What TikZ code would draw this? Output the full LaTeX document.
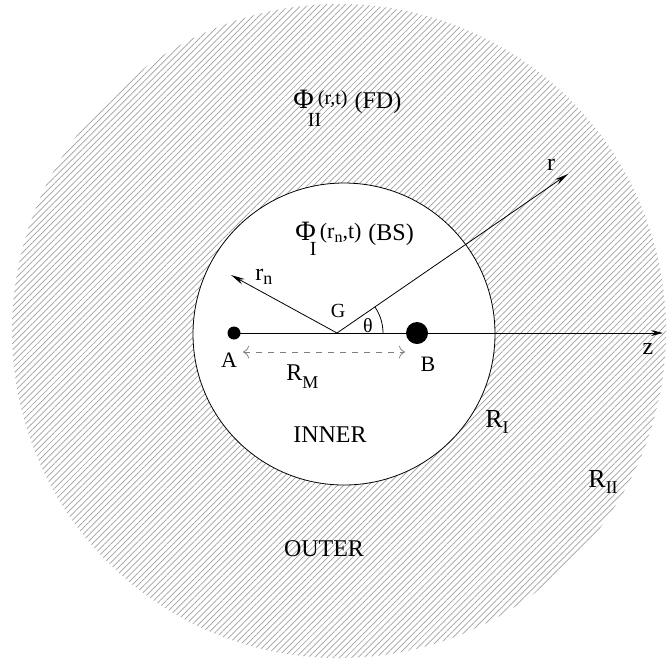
\documentclass[tikz,border=0pt]{standalone}
\usepackage{fontspec}
\setmainfont{Liberation Serif}
\usetikzlibrary{patterns.meta, arrows.meta, positioning, calc}

% potential with a sub-index set low under its right side
\newcommand{\potl}[3]{Φ\rlap{\kern-3pt\raisebox{#2}{\fontsize{10}{12}\selectfont #1}}\kern2pt#3}
\newcommand{\rsub}[3][-3pt]{#2\raisebox{#1}{\fontsize{9}{11}\selectfont #3}}

\tikzset{
    lab/.style={inner sep=0pt, font=\fontsize{12}{14}\selectfont},
    dot/.style={circle, fill=black, inner sep=0pt},
    hatch/.style={pattern={Lines[angle=45, distance=2.2pt, line width=0.35pt]}, pattern color=gray!75}
}

\begin{document}
\begin{tikzpicture}[x=0.5pt, y=-0.5pt, >=Stealth, thin]
    \useasboundingbox (0,0) rectangle (669,661);

    % --- Regions ---
    \node[circle, hatch, minimum size=327pt, inner sep=0pt] (outer) at (339,331) {};
    \node[circle, draw, fill=white, minimum size=151pt, inner sep=0pt] (inner) at (344,334) {};

    % --- Axis and points ---
    \coordinate (G) at (337,333);
    \coordinate (zend) at (663,333);
    \coordinate (rtip) at (568,174);
    \coordinate (rntip) at (231,275);
    \node[dot, minimum size=6.5pt] (A) at (234,333) {};
    \node[dot, minimum size=11pt] (B) at (417,333) {};

    \draw[-{Stealth[length=6pt, width=3pt]}] (A.center) -- (zend);
    \draw[-{Stealth[length=7pt, width=3pt]}] (G) -- (rtip);
    \draw[-{Stealth[length=7pt, width=3pt]}] (G) -- (rntip);
    \draw ($(G)+(46,0)$) arc [start angle=0, end angle=-34.5, radius=46];

    % separation of the nuclei
    \coordinate (rmL) at (243,352);
    \coordinate (rmR) at (405,352);
    \draw[{To[length=3pt]}-{To[length=3pt]}, gray, dashed] (rmL) -- (rmR);

    % --- Labels ---
    \node[lab] (zlab) at (648,349) {z};
    \node[lab] (rlab) at (551,165) {r};
    \node[lab, anchor=base west] (rnlab) at (255,280) {\rsub[-2pt]{r}{n}};
    \node[lab, font=\fontsize{10}{12}\selectfont] (Glab) at (338,311) {G};
    \node[lab, font=\fontsize{10}{12}\selectfont] (thlab) at (368,326) {θ};
    \node[lab, font=\fontsize{11}{13}\selectfont] (Alab) at (229,360) {A};
    \node[lab, font=\fontsize{11}{13}\selectfont] (Blab) at (428,364) {B};
    \node[lab, anchor=base west] (RMlab) at (286,380) {\rsub[-4pt]{R}{M}};
    \node[lab] (innerlab) at (330,435) {INNER};
    \node[lab] (outerlab) at (324,549) {OUTER};
    \node[lab, anchor=base west, font=\fontsize{13}{15}\selectfont] (RIlab) at (485,427) {\rsub{R}{I}};
    \node[lab, anchor=base west, font=\fontsize{13}{15}\selectfont] (RIIlab) at (588,487) {\rsub{R}{II}};
    \node[lab, anchor=base west, font=\fontsize{14}{16}\selectfont] (phiII) at (293,108)
        {\potl{II}{-9pt}{\raisebox{2pt}{\fontsize{10}{12}\selectfont (r,t)}}\ \fontsize{12}{14}\selectfont(FD)};
    \node[lab, anchor=base west, font=\fontsize{14}{16}\selectfont] (phiI) at (295,240)
        {\potl{I}{-7.5pt}{\raisebox{1pt}{\fontsize{11}{13}\selectfont (r\raisebox{-2pt}{\fontsize{8}{9}\selectfont n},t)}}\ \fontsize{12}{14}\selectfont(BS)};
\end{tikzpicture}
\end{document}
